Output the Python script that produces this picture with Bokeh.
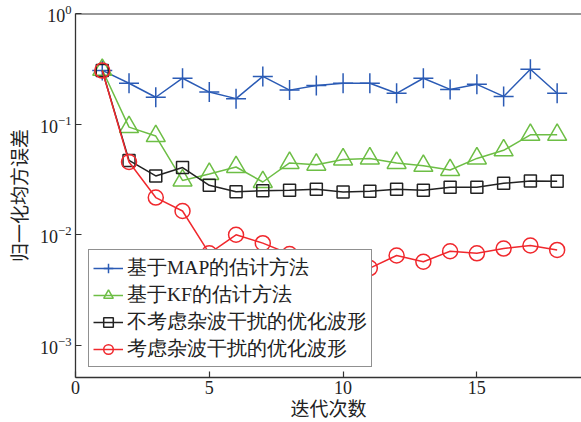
from bokeh.plotting import figure
from bokeh.models import Range1d, FixedTicker, Legend, LegendItem, Span
from bokeh.embed import file_html
from bokeh.resources import INLINE

iterations = list(range(1, 19))
map_err = [0.306, 0.234, 0.175, 0.26, 0.195, 0.17, 0.27, 0.203, 0.224,
           0.234, 0.234, 0.19, 0.26, 0.206, 0.229, 0.178, 0.313, 0.19]
kf_err = [0.31, 0.094, 0.078, 0.031, 0.0355, 0.041, 0.030, 0.0446, 0.043,
          0.048, 0.049, 0.0446, 0.042, 0.0385, 0.049, 0.058, 0.08, 0.08]
noclutter_err = [0.305, 0.047, 0.034, 0.0405, 0.028, 0.0245, 0.025, 0.0253, 0.0258,
                 0.0243, 0.0247, 0.0258, 0.0252, 0.0269, 0.0269, 0.0292, 0.0307, 0.0305]
clutter_err = [0.305, 0.0455, 0.0217, 0.0164, 0.0068, 0.0100, 0.0084, 0.0067, 0.0055,
               0.0052, 0.0050, 0.0065, 0.0057, 0.0071, 0.0068, 0.0075, 0.0080, 0.0073]

labels = ["基于MAP的估计方法", "基于KF的估计方法", "不考虑杂波干扰的优化波形", "考虑杂波干扰的优化波形"]
x_ticks = [0, 5, 10, 15]
y_ticks = [1e-3, 1e-2, 1e-1, 1]

FONT = "'Liberation Serif', 'Noto Sans CJK SC'"
LEGEND_FONT = "'Liberation Serif'"

p = figure(width=581, height=422, y_axis_type="log",
           x_range=Range1d(0, 18.91), y_range=Range1d(10 ** -3.29, 1.0),
           output_backend="svg", toolbar_location=None,
           min_border_left=75, min_border_right=0, min_border_top=13, min_border_bottom=10)
p.background_fill_color = "white"
p.border_fill_color = "white"
p.outline_line_color = None
p.xgrid.grid_line_color = None
p.ygrid.grid_line_color = None

for ax in (p.xaxis[0], p.yaxis[0]):
    ax.axis_line_color = "#333333"
    ax.axis_line_width = 1.3
    ax.major_tick_line_color = "#333333"
    ax.major_tick_line_width = 1.2
    ax.major_tick_in = 6
    ax.major_tick_out = 0
    ax.minor_tick_line_color = None
    ax.major_label_text_font = FONT
    ax.major_label_text_font_size = "18px"
    ax.major_label_text_color = "#222222"
    ax.axis_label_text_font = FONT
    ax.axis_label_text_font_size = "19px"
    ax.axis_label_text_font_style = "normal"
    ax.axis_label_text_color = "#222222"

p.xaxis.ticker = FixedTicker(ticks=x_ticks)
p.yaxis.ticker = FixedTicker(ticks=y_ticks)
p.xaxis.axis_label = "迭代次数"
p.yaxis.axis_label = "归一化均方误差"
p.xaxis.major_label_standoff = 3
p.xaxis.axis_label_standoff = 2
p.yaxis.major_label_standoff = 4
p.yaxis.axis_label_standoff = 6

p.add_layout(Span(location=1.0, dimension="width", line_color="#333333", line_width=2))

series = [
    (map_err, "#2B5BB5", "cross", 20),
    (kf_err, "#6DBE45", "triangle", 19),
    (noclutter_err, "#222222", "square", 12),
    (clutter_err, "#F0282D", "circle", 15),
]
items = []
for (vals, color, marker, size), lab in zip(series, labels):
    r1 = p.line(iterations, vals, line_color=color, line_width=1.5)
    r2 = p.scatter(iterations, vals, marker=marker, size=size, line_color=color,
                   fill_color=None, line_width=1.5)
    items.append(LegendItem(label=lab, renderers=[r1, r2]))

legend = Legend(items=items, location=(13, 10))
legend.label_text_font = LEGEND_FONT
legend.label_text_font_size = "19.5px"
legend.label_text_color = "#222222"
legend.border_line_color = "#222222"
legend.border_line_width = 1.5
legend.background_fill_color = "white"
legend.background_fill_alpha = 1.0
legend.glyph_width = 30
legend.glyph_height = 24
legend.label_height = 24
legend.label_standoff = 4
legend.spacing = 0
legend.padding = 4
legend.margin = 0
p.add_layout(legend)

open("out.html", "w").write(file_html(p, INLINE))
